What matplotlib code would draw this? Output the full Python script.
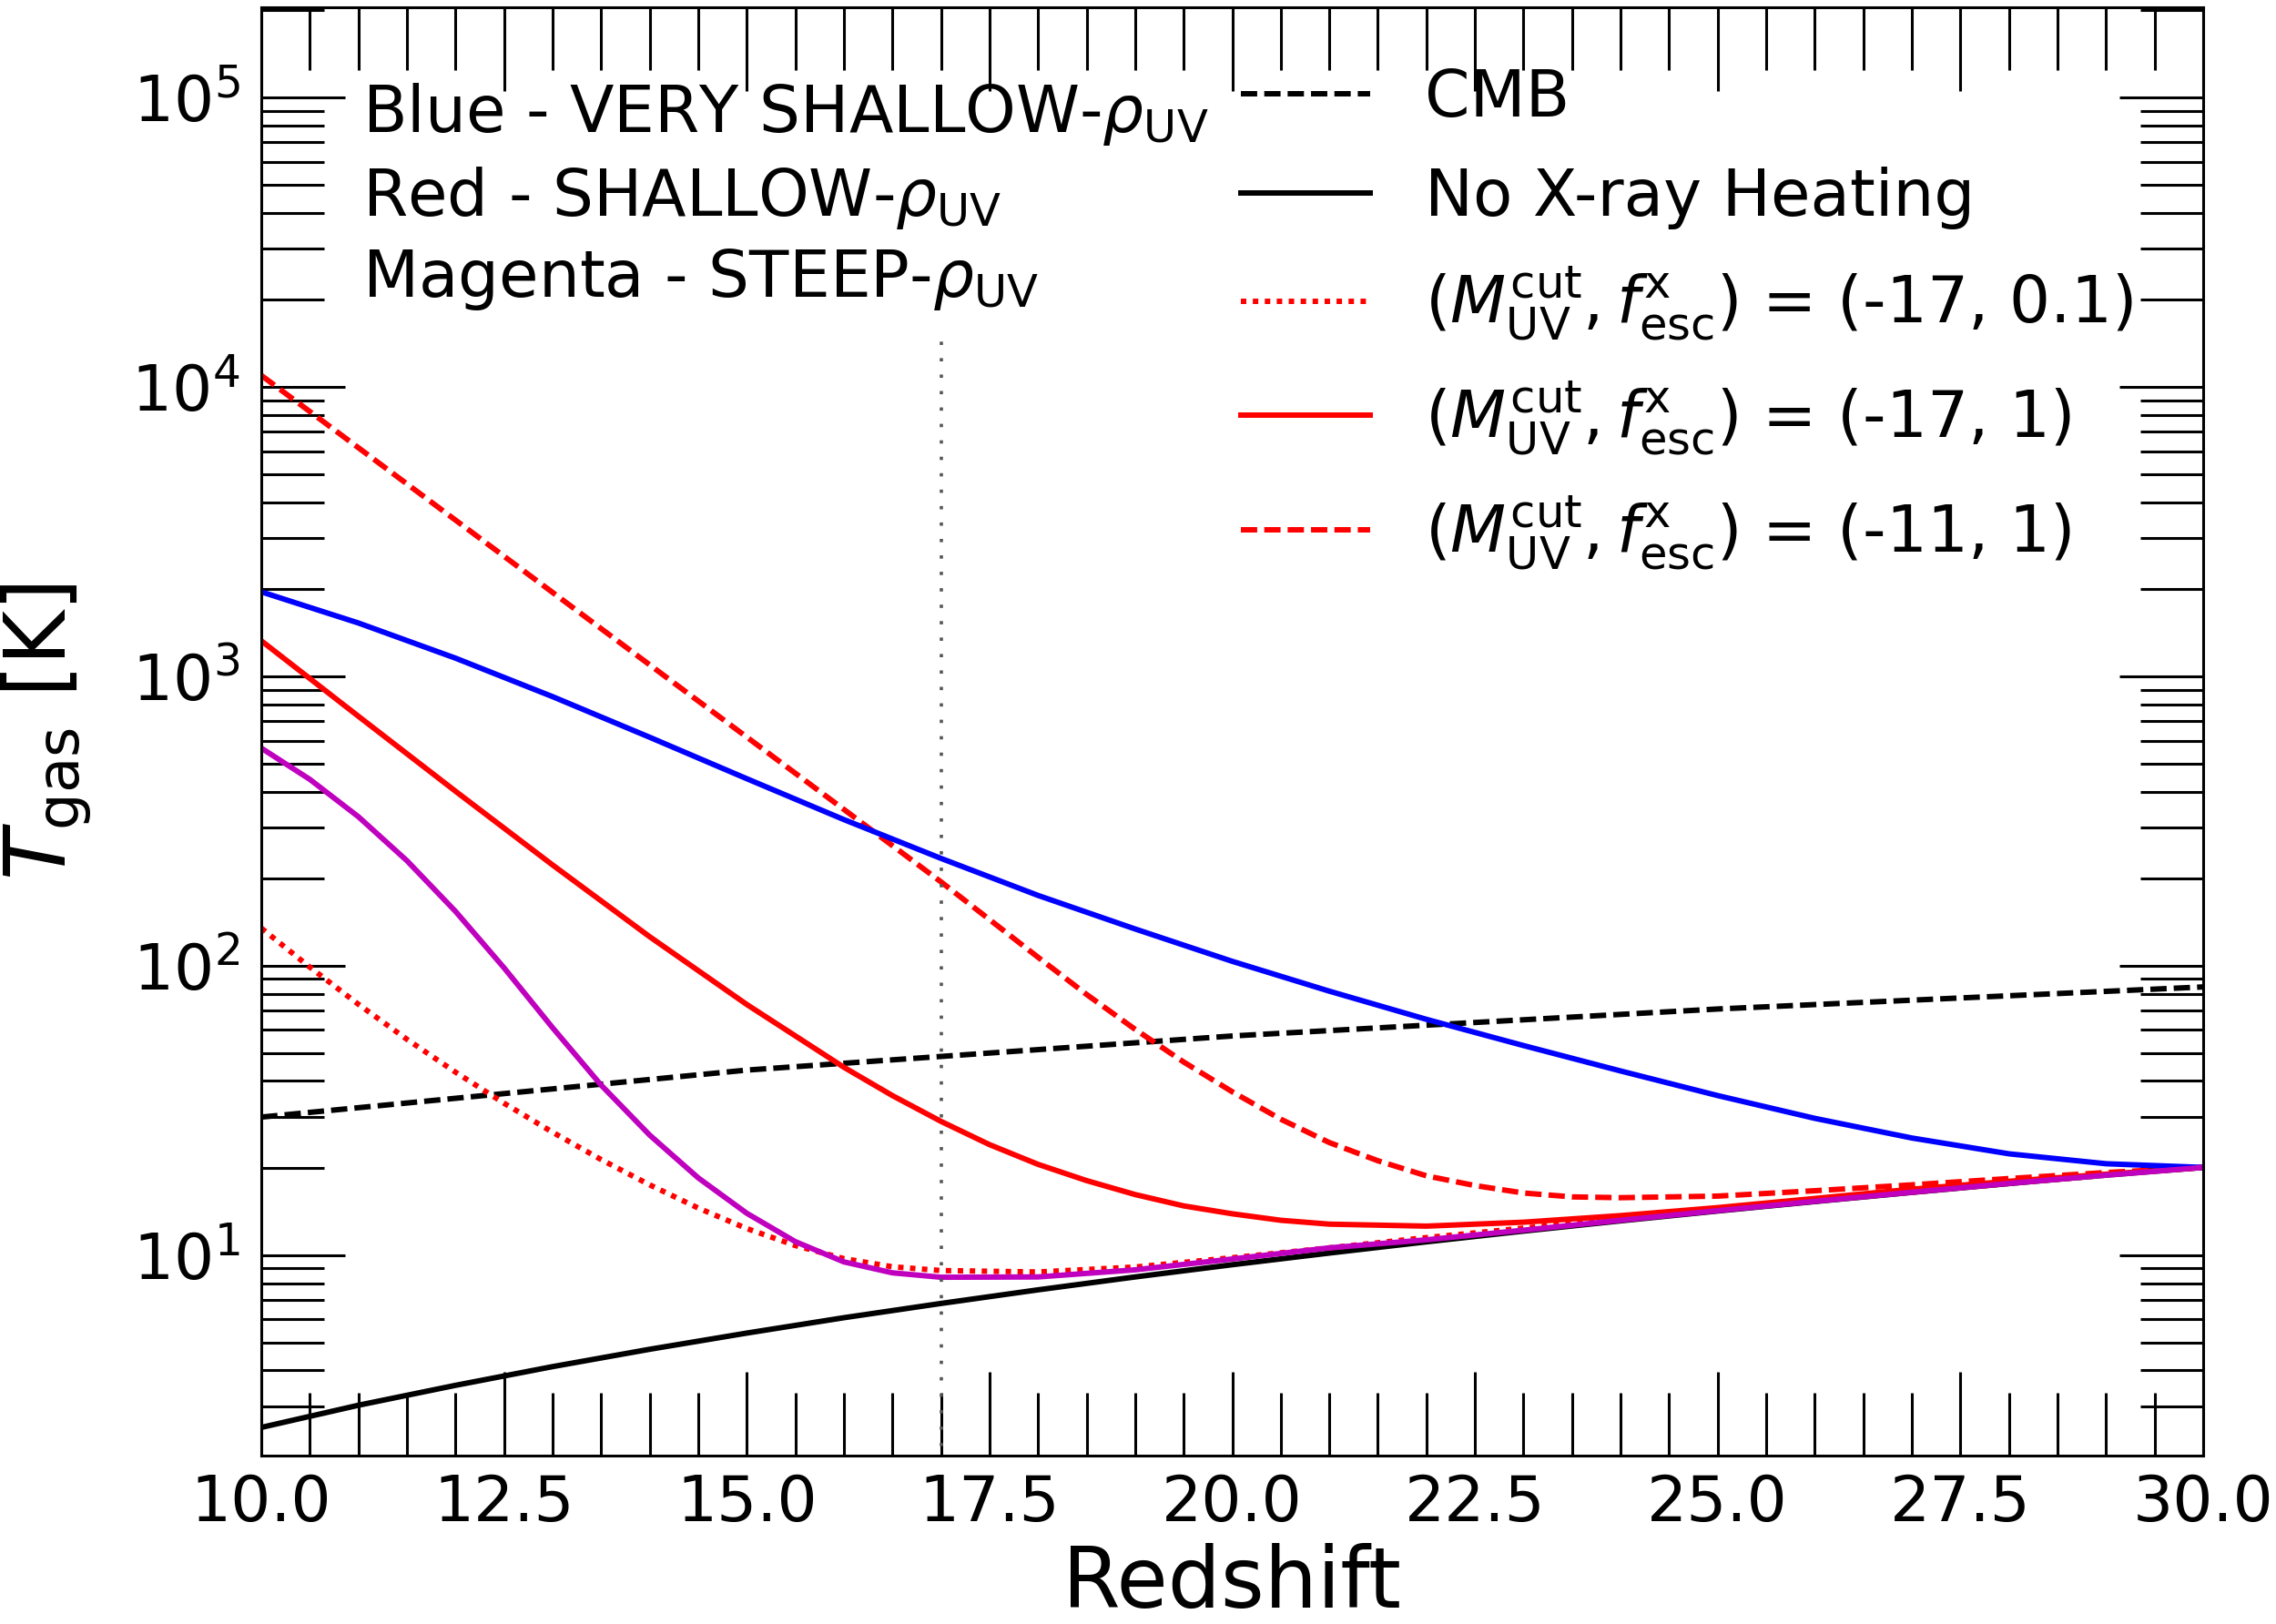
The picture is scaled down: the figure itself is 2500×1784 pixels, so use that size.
import matplotlib
matplotlib.use("Agg")
import matplotlib.pyplot as plt
from matplotlib.ticker import MultipleLocator, LogLocator, NullFormatter

# ---------------- data ----------------
z_cmb = [10, 15, 20, 25, 30]
T_cmb = [30.0, 43.6, 57.2, 70.9, 84.5]

z_int = [10, 11, 12, 13, 14, 15, 16, 17, 18, 19, 20,
         21, 22, 23, 24, 25, 26, 27, 28, 29, 30]

T_noxray = [2.54, 3.03, 3.55, 4.12, 4.73, 5.38, 6.08, 6.81, 7.59, 8.41, 9.27,
            10.17, 11.12, 12.11, 13.14, 14.21, 15.32, 16.48, 17.68, 18.92, 20.1]

T_blue = [1959, 1529, 1156, 851, 616, 443, 320, 235, 175, 134, 103.6,
          81.7, 65.3, 53.0, 43.3, 35.6, 29.7, 25.4, 22.4, 20.7, 20.1]

z_red17 = [10, 11, 12, 13, 14, 15, 16, 16.5, 17, 17.5, 18, 18.5, 19, 19.5,
           20, 20.5, 21, 22, 23, 24, 25, 26, 27, 28, 29, 30]
T_red_m17 = [1327, 728, 401, 223, 126, 73.5, 44.6, 35.6, 29.0, 24.1, 20.6,
             18.1, 16.2, 14.8, 13.9, 13.2, 12.8, 12.6, 13.0, 13.7, 14.6,
             15.7, 16.9, 18.0, 19.05, 20.1]

z_red11 = [10, 11, 12, 13, 14, 15, 16, 17, 18, 18.5, 19, 19.5, 20, 20.5, 21,
           21.5, 22, 22.5, 23, 23.5, 24, 25, 26, 27, 28, 29, 30]
T_red_m11 = [10965, 6166, 3467, 1950, 1096, 617, 347, 195, 107, 79.6, 60.3,
             46.5, 36.7, 29.5, 24.5, 21.2, 18.8, 17.4, 16.4, 15.9, 15.8, 16.0,
             16.7, 17.5, 18.4, 19.3, 20.1]

z_fine = [10, 10.5, 11, 11.5, 12, 12.5, 13, 13.5, 14, 14.5, 15, 15.5, 16, 16.5,
          17, 18, 19, 20, 21, 22, 23, 24, 25, 26, 27, 28, 29, 30]

T_red_m17_f01 = [134.9, 98.9, 73.6, 55.7, 42.9, 33.5, 26.6, 21.4, 17.5, 14.55,
                 12.36, 10.8, 9.73, 9.12, 8.85, 8.75, 9.1, 9.8, 10.6, 11.5, 12.4,
                 13.35, 14.35, 15.4, 16.5, 17.7, 18.9, 20.1]

T_magenta = [565, 440.6, 327.3, 230.7, 154.2, 98.4, 61.1, 38.7, 26.0, 18.5,
             13.96, 11.14, 9.48, 8.69, 8.39, 8.41, 8.9, 9.7, 10.6, 11.3, 12.2,
             13.2, 14.25, 15.35, 16.5, 17.7, 18.9, 20.1]

vline_z = [17.0, 17.0]
vline_T = [1.0, 1.45e4]

legend_labels = [
    "CMB",
    "No X-ray Heating",
    r"$(M_{\rm UV}^{\rm cut}, f_{\rm esc}^{\rm x})$ = (-17, 0.1)",
    r"$(M_{\rm UV}^{\rm cut}, f_{\rm esc}^{\rm x})$ = (-17, 1)",
    r"$(M_{\rm UV}^{\rm cut}, f_{\rm esc}^{\rm x})$ = (-11, 1)",
]
model_labels = [
    r"Blue - VERY SHALLOW-$\rho_{\rm UV}$",
    r"Red - SHALLOW-$\rho_{\rm UV}$",
    r"Magenta - STEEP-$\rho_{\rm UV}$",
]

# ---------------- figure ----------------
plt.rcParams["font.family"] = ["DejaVu Sans"]
plt.rcParams["mathtext.fontset"] = "dejavusans"

fig = plt.figure(figsize=(25, 17.84), dpi=100)
ax = fig.add_axes([0.1148, 0.1037, 0.8532, 0.8918])

lw = 4.3
dash = (0, (3.0, 1.3))
dot = (0, (1.0, 1.2))
ax.plot(z_cmb, T_cmb, color="k", ls=dash, lw=lw, label=legend_labels[0])
ax.plot(z_int, T_noxray, color="k", ls="-", lw=lw, label=legend_labels[1])
ax.plot(z_fine, T_red_m17_f01, color="r", ls=dot, lw=lw, label=legend_labels[2])
ax.plot(z_red17, T_red_m17, color="r", ls="-", lw=lw, label=legend_labels[3])
ax.plot(z_red11, T_red_m11, color="r", ls=dash, lw=lw, label=legend_labels[4])
ax.plot(z_int, T_blue, color="b", ls="-", lw=lw)
ax.plot(z_fine, T_magenta, color="m", ls="-", lw=lw)
ax.plot(vline_z, vline_T, color="#555555", lw=2.6, ls=(0, (1, 4)))

ax.set_yscale("log")
ax.set_xlim(10, 30)
ax.set_ylim(2.03, 2.05e5)

ax.xaxis.set_major_locator(MultipleLocator(2.5))
ax.xaxis.set_minor_locator(MultipleLocator(0.5))
ax.yaxis.set_major_locator(LogLocator(base=10))
ax.yaxis.set_minor_locator(LogLocator(base=10, subs=[2, 3, 4, 5, 6, 7, 8, 9], numticks=20))
ax.yaxis.set_minor_formatter(NullFormatter())

ax.tick_params(which="both", direction="in", top=True, right=True, width=2.2,
               labelsize=50)
ax.tick_params(which="major", length=66)
ax.tick_params(which="minor", length=50)
ax.tick_params(axis="x", which="major", pad=14)
ax.tick_params(axis="y", which="major", pad=17)
for sp in ax.spines.values():
    sp.set_linewidth(2.2)

ax.set_xlabel("Redshift", fontsize=66, labelpad=7)
ax.set_ylabel(r"$T_{\rm gas}$ [K]", fontsize=66, labelpad=30)

for txt, yb in zip(model_labels, [0.914, 0.856, 0.800]):
    ax.text(0.052, yb, txt, transform=ax.transAxes, fontsize=51, va="baseline",
            ha="left")

ax.legend(loc="upper left", bbox_to_anchor=(0.5045, 0.9585), frameon=False,
          fontsize=51, handlelength=2.0, handletextpad=0.85, labelspacing=0.56,
          borderpad=0, borderaxespad=0)

fig.savefig("out.png", dpi=100)
